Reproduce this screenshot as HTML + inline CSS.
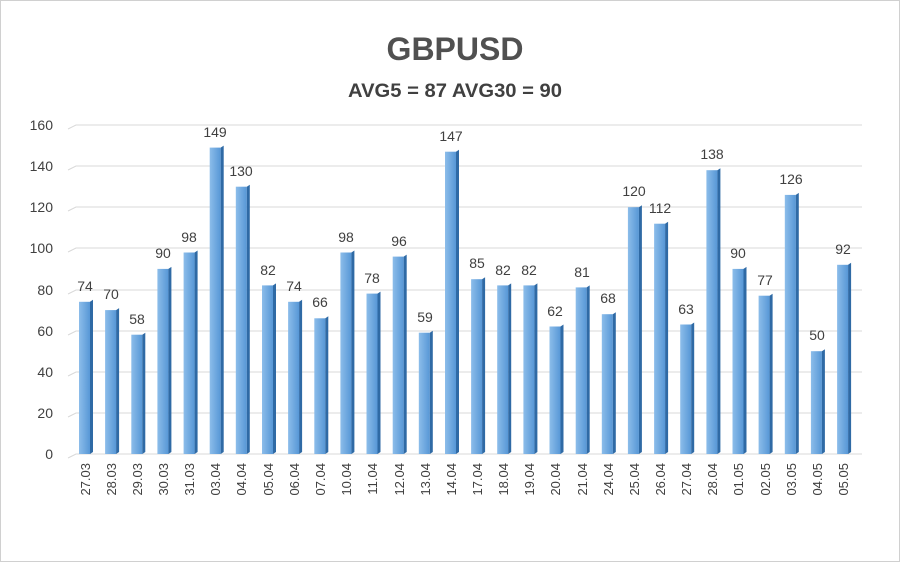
<!DOCTYPE html>
<html><head><meta charset="utf-8"><style>
html,body{margin:0;padding:0;background:#fff}
svg{display:block}
text{font-family:"Liberation Sans",sans-serif;fill:#404040}
</style></head><body>
<svg width="900" height="562" viewBox="0 0 900 562" xmlns="http://www.w3.org/2000/svg">
<defs>
<linearGradient id="f" x1="0" y1="0" x2="1" y2="0"><stop offset="0" stop-color="#8cbdea"/><stop offset="1" stop-color="#5797d6"/></linearGradient>
</defs>
<rect x="0.5" y="0.5" width="899" height="561" fill="#fff" stroke="#d0d0d0"/>
<text x="455" y="60" text-anchor="middle" font-size="32" font-weight="bold" style="fill:#505050">GBPUSD</text>
<text x="455" y="97" text-anchor="middle" font-size="19" font-weight="bold" textLength="214" lengthAdjust="spacingAndGlyphs" style="fill:#404040">AVG5 = 87 AVG30 = 90</text>
<g stroke="#d9d9d9" stroke-width="1" fill="none">
<polyline points="68,458 76,454 862,454"/>
<polyline points="68,417 76,413 862,413"/>
<polyline points="68,376 76,372 862,372"/>
<polyline points="68,335 76,331 862,331"/>
<polyline points="68,294 76,290 862,290"/>
<polyline points="68,252 76,248 862,248"/>
<polyline points="68,211 76,207 862,207"/>
<polyline points="68,170 76,166 862,166"/>
<polyline points="68,129 76,125 862,125"/>
</g>
<g font-size="14" text-anchor="end">
<text x="53" y="459">0</text><text x="53" y="418">20</text><text x="53" y="377">40</text><text x="53" y="336">60</text><text x="53" y="295">80</text><text x="53" y="253">100</text><text x="53" y="212">120</text><text x="53" y="171">140</text><text x="53" y="130">160</text>
</g>
<g fill="url(#f)">
<rect x="79" y="301.8" width="11" height="152.2"/><rect x="105.1" y="310.1" width="11" height="143.9"/><rect x="131.3" y="334.7" width="11" height="119.3"/><rect x="157.4" y="268.9" width="11" height="185.1"/><rect x="183.6" y="252.5" width="11" height="201.5"/><rect x="209.7" y="147.6" width="11" height="306.4"/><rect x="235.8" y="186.7" width="11" height="267.3"/><rect x="262" y="285.4" width="11" height="168.6"/><rect x="288.1" y="301.8" width="11" height="152.2"/><rect x="314.3" y="318.3" width="11" height="135.7"/><rect x="340.4" y="252.5" width="11" height="201.5"/><rect x="366.5" y="293.6" width="11" height="160.4"/><rect x="392.7" y="256.6" width="11" height="197.4"/><rect x="418.8" y="332.7" width="11" height="121.3"/><rect x="445" y="151.7" width="11" height="302.3"/><rect x="471.1" y="279.2" width="11" height="174.8"/><rect x="497.2" y="285.4" width="11" height="168.6"/><rect x="523.4" y="285.4" width="11" height="168.6"/><rect x="549.5" y="326.5" width="11" height="127.5"/><rect x="575.7" y="287.4" width="11" height="166.6"/><rect x="601.8" y="314.2" width="11" height="139.8"/><rect x="627.9" y="207.2" width="11" height="246.8"/><rect x="654.1" y="223.7" width="11" height="230.3"/><rect x="680.2" y="324.5" width="11" height="129.5"/><rect x="706.4" y="170.2" width="11" height="283.8"/><rect x="732.5" y="268.9" width="11" height="185.1"/><rect x="758.6" y="295.7" width="11" height="158.3"/><rect x="784.8" y="194.9" width="11" height="259.1"/><rect x="810.9" y="351.2" width="11" height="102.8"/><rect x="837.1" y="264.8" width="11" height="189.2"/>
</g>
<g fill="#2f6aa5">
<polygon points="90,301.8 93,299.8 93,452 90,454"/><polygon points="116.1,310.1 119.1,308.1 119.1,452 116.1,454"/><polygon points="142.3,334.7 145.3,332.7 145.3,452 142.3,454"/><polygon points="168.4,268.9 171.4,266.9 171.4,452 168.4,454"/><polygon points="194.6,252.5 197.6,250.5 197.6,452 194.6,454"/><polygon points="220.7,147.6 223.7,145.6 223.7,452 220.7,454"/><polygon points="246.8,186.7 249.8,184.7 249.8,452 246.8,454"/><polygon points="273,285.4 276,283.4 276,452 273,454"/><polygon points="299.1,301.8 302.1,299.8 302.1,452 299.1,454"/><polygon points="325.3,318.3 328.3,316.3 328.3,452 325.3,454"/><polygon points="351.4,252.5 354.4,250.5 354.4,452 351.4,454"/><polygon points="377.5,293.6 380.5,291.6 380.5,452 377.5,454"/><polygon points="403.7,256.6 406.7,254.6 406.7,452 403.7,454"/><polygon points="429.8,332.7 432.8,330.7 432.8,452 429.8,454"/><polygon points="456,151.7 459,149.7 459,452 456,454"/><polygon points="482.1,279.2 485.1,277.2 485.1,452 482.1,454"/><polygon points="508.2,285.4 511.2,283.4 511.2,452 508.2,454"/><polygon points="534.4,285.4 537.4,283.4 537.4,452 534.4,454"/><polygon points="560.5,326.5 563.5,324.5 563.5,452 560.5,454"/><polygon points="586.7,287.4 589.7,285.4 589.7,452 586.7,454"/><polygon points="612.8,314.2 615.8,312.2 615.8,452 612.8,454"/><polygon points="638.9,207.2 641.9,205.2 641.9,452 638.9,454"/><polygon points="665.1,223.7 668.1,221.7 668.1,452 665.1,454"/><polygon points="691.2,324.5 694.2,322.5 694.2,452 691.2,454"/><polygon points="717.4,170.2 720.4,168.2 720.4,452 717.4,454"/><polygon points="743.5,268.9 746.5,266.9 746.5,452 743.5,454"/><polygon points="769.6,295.7 772.6,293.7 772.6,452 769.6,454"/><polygon points="795.8,194.9 798.8,192.9 798.8,452 795.8,454"/><polygon points="821.9,351.2 824.9,349.2 824.9,452 821.9,454"/><polygon points="848.1,264.8 851.1,262.8 851.1,452 848.1,454"/>
</g>
<g font-size="14" text-anchor="middle">
<text x="85" y="291">74</text><text x="111" y="299">70</text><text x="137" y="324">58</text><text x="163" y="258">90</text><text x="189" y="242">98</text><text x="215" y="137">149</text><text x="241" y="176">130</text><text x="268" y="275">82</text><text x="294" y="291">74</text><text x="320" y="307">66</text><text x="346" y="242">98</text><text x="372" y="283">78</text><text x="399" y="246">96</text><text x="425" y="322">59</text><text x="451" y="141">147</text><text x="477" y="268">85</text><text x="503" y="275">82</text><text x="529" y="275">82</text><text x="555" y="316">62</text><text x="582" y="277">81</text><text x="608" y="303">68</text><text x="634" y="196">120</text><text x="660" y="213">112</text><text x="686" y="314">63</text><text x="712" y="159">138</text><text x="738" y="258">90</text><text x="765" y="285">77</text><text x="791" y="184">126</text><text x="817" y="340">50</text><text x="843" y="254">92</text>
</g>
<g font-size="13" text-anchor="end">
<text transform="translate(90,463) rotate(-90)">27.03</text><text transform="translate(116,463) rotate(-90)">28.03</text><text transform="translate(142,463) rotate(-90)">29.03</text><text transform="translate(168,463) rotate(-90)">30.03</text><text transform="translate(194,463) rotate(-90)">31.03</text><text transform="translate(220,463) rotate(-90)">03.04</text><text transform="translate(246,463) rotate(-90)">04.04</text><text transform="translate(273,463) rotate(-90)">05.04</text><text transform="translate(299,463) rotate(-90)">06.04</text><text transform="translate(325,463) rotate(-90)">07.04</text><text transform="translate(351,463) rotate(-90)">10.04</text><text transform="translate(377,463) rotate(-90)">11.04</text><text transform="translate(404,463) rotate(-90)">12.04</text><text transform="translate(430,463) rotate(-90)">13.04</text><text transform="translate(456,463) rotate(-90)">14.04</text><text transform="translate(482,463) rotate(-90)">17.04</text><text transform="translate(508,463) rotate(-90)">18.04</text><text transform="translate(534,463) rotate(-90)">19.04</text><text transform="translate(560,463) rotate(-90)">20.04</text><text transform="translate(587,463) rotate(-90)">21.04</text><text transform="translate(613,463) rotate(-90)">24.04</text><text transform="translate(639,463) rotate(-90)">25.04</text><text transform="translate(665,463) rotate(-90)">26.04</text><text transform="translate(691,463) rotate(-90)">27.04</text><text transform="translate(717,463) rotate(-90)">28.04</text><text transform="translate(743,463) rotate(-90)">01.05</text><text transform="translate(770,463) rotate(-90)">02.05</text><text transform="translate(796,463) rotate(-90)">03.05</text><text transform="translate(822,463) rotate(-90)">04.05</text><text transform="translate(848,463) rotate(-90)">05.05</text>
</g>
</svg>
</body></html>
